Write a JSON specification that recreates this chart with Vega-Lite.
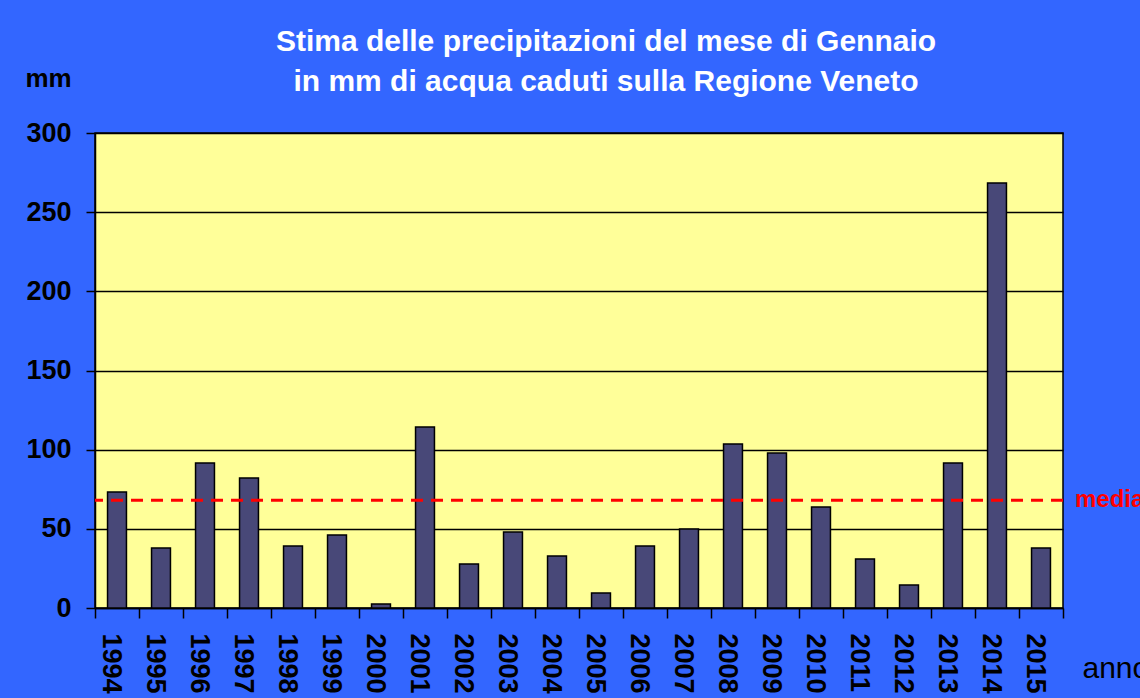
{
  "$schema": "https://vega.github.io/schema/vega-lite/v6.json",
  "width": 968,
  "height": 475,
  "autosize": {"type": "none"},
  "padding": {"left": 95, "top": 133, "right": 77, "bottom": 90},
  "background": "#3366FF",
  "title": {
    "text": ["Stima delle precipitazioni del mese di Gennaio", "in mm di acqua caduti sulla  Regione Veneto"],
    "color": "#FFFFFF",
    "fontSize": 30,
    "fontWeight": "bold",
    "font": "Liberation Sans",
    "anchor": "middle",
    "dx": 27,
    "lineHeight": 40,
    "offset": -32
  },
  "config": {
    "view": {"fill": "#FFFF99", "stroke": "#000000", "strokeWidth": 1.5},
    "font": "Liberation Sans"
  },
  "layer": [
    {
      "data": {"values": [
        {"anno": "1994", "mm": 73.3},
        {"anno": "1995", "mm": 37.9},
        {"anno": "1996", "mm": 91.6},
        {"anno": "1997", "mm": 82.1},
        {"anno": "1998", "mm": 39.2},
        {"anno": "1999", "mm": 46.1},
        {"anno": "2000", "mm": 2.5},
        {"anno": "2001", "mm": 114.3},
        {"anno": "2002", "mm": 27.8},
        {"anno": "2003", "mm": 48.0},
        {"anno": "2004", "mm": 32.8},
        {"anno": "2005", "mm": 9.5},
        {"anno": "2006", "mm": 39.2},
        {"anno": "2007", "mm": 49.9},
        {"anno": "2008", "mm": 103.6},
        {"anno": "2009", "mm": 97.9},
        {"anno": "2010", "mm": 63.8},
        {"anno": "2011", "mm": 31.0},
        {"anno": "2012", "mm": 14.5},
        {"anno": "2013", "mm": 91.6},
        {"anno": "2014", "mm": 268.5},
        {"anno": "2015", "mm": 37.9}
      ]},
      "mark": {"type": "bar", "fill": "#484878", "stroke": "#000000", "strokeWidth": 1.5, "width": {"band": 0.43}},
      "encoding": {
        "x": {
          "field": "anno", "type": "ordinal",
          "scale": {"paddingInner": 0, "paddingOuter": 0},
          "axis": {
            "title": "anno",
            "labelAngle": 90,
            "labelFontSize": 27,
            "labelFontWeight": "bold",
            "labelColor": "#000000",
            "labelPadding": 15,
            "labelOffset": -7,
            "tickBand": "extent",
            "tickSize": 10,
            "tickColor": "#000000",
            "tickWidth": 1.5,
            "domainColor": "#000000",
            "domainWidth": 1.5,
            "titleX": 987,
            "titleY": 69,
            "titleAlign": "left",
            "titleAngle": 0,
            "titleBaseline": "alphabetic",
            "titleFontSize": 30,
            "titleFontWeight": "normal",
            "titleColor": "#000000"
          }
        },
        "y": {
          "field": "mm", "type": "quantitative",
          "scale": {"domain": [0, 300]},
          "axis": {
            "title": "mm",
            "values": [0, 50, 100, 150, 200, 250, 300],
            "grid": true,
            "gridColor": "#000000",
            "gridWidth": 1.5,
            "gridOpacity": 1,
            "labelFontSize": 27,
            "labelFontWeight": "bold",
            "labelColor": "#000000",
            "labelPadding": 15,
            "tickSize": 9,
            "tickColor": "#000000",
            "tickWidth": 1.5,
            "domainColor": "#000000",
            "domainWidth": 1.5,
            "titleAngle": 0,
            "titleX": -70,
            "titleY": -47,
            "titleAlign": "left",
            "titleBaseline": "alphabetic",
            "titleFontSize": 26,
            "titleFontWeight": "bold",
            "titleColor": "#000000"
          }
        }
      }
    },
    {
      "data": {"values": [{"media": 68}]},
      "mark": {"type": "rule", "color": "#FF0000", "strokeWidth": 3, "strokeDash": [12, 8]},
      "encoding": {"y": {"field": "media", "type": "quantitative"}}
    },
    {
      "data": {"values": [{"media": 68, "label": "media"}]},
      "mark": {"type": "text", "x": "width", "dx": 12, "color": "#FF0000", "fontWeight": "bold", "fontSize": 24, "align": "left", "baseline": "middle"},
      "encoding": {
        "y": {"field": "media", "type": "quantitative"},
        "text": {"field": "label"}
      }
    }
  ]
}
